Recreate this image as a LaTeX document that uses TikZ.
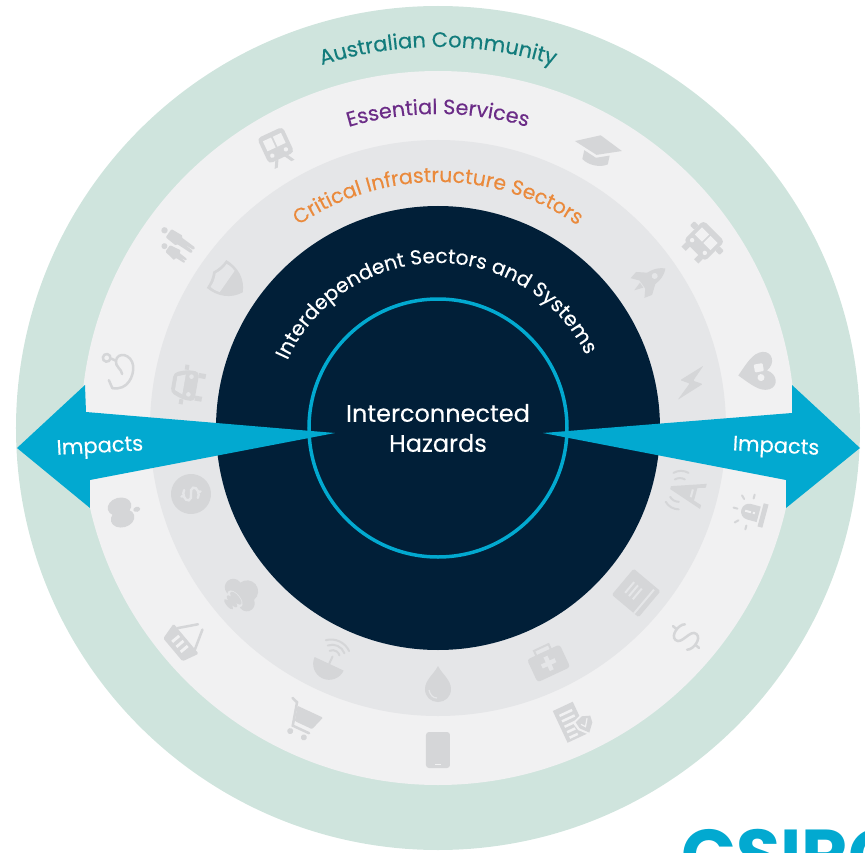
\documentclass[tikz,border=0pt]{standalone}
\usepackage{fontspec}
\setmainfont{Poppins}[UprightFeatures={FakeBold=0.25}]
\usetikzlibrary{decorations.text}
\definecolor{communitycol}{HTML}{CFE4DD}
\definecolor{ringone}{HTML}{F1F1F2}
\definecolor{ringtwo}{HTML}{E5E6E8}
\definecolor{navycol}{HTML}{011F38}
\definecolor{cyancol}{HTML}{02A9D0}
\definecolor{iconcol}{HTML}{D5D6D8}
\definecolor{tealcol}{HTML}{127C7C}
\definecolor{purplecol}{HTML}{6B2C87}
\definecolor{orangecol}{HTML}{EA8A3C}
\tikzset{
icon/.style={fill=iconcol}, % solid part of every small pictogram
iconline/.style={draw=iconcol, line width=2.5pt, line cap=round, fill=none}, % pictogram strokes
hole/.style={fill=ringone}, % cut-outs take the colour of the ring below
arrowfill/.style={fill=cyancol},
midtext/.style={text=white, align=center, font=\fontsize{24}{30}\selectfont},
impacttext/.style={text=white, font=\fontsize{21}{24}\selectfont},
arclabel/.style n args={3}{decorate, decoration={text along path, text align=center,
  text format delimiters={|}{|}, text={|\fontsize{#1}{#1}\selectfont\color{#2}|#3}}},
train/.pic={
  \fill[icon, rounded corners=4pt] (-14,-11) rectangle (14,17);
  \fill[hole] (-10,1) rectangle (-1,12) (1,1) rectangle (10,12);
  \fill[hole] (-7.5,-5) circle (2.2) (7.5,-5) circle (2.2);
  \fill[icon] (-7,-11) -- (-11,-18) -- (-7.5,-18) -- (-3.5,-11) -- cycle (7,-11) -- (11,-18) -- (7.5,-18) -- (3.5,-11) -- cycle;
},
people/.pic={
  \fill[icon] (6,17) circle (3.2) (-7,8) circle (3);
  \fill[icon, rounded corners=1pt] (1,12) -- (11,12) -- (12,-1) -- (10,-1) -- (9.5,-18) -- (6.5,-18) -- (6,-5) -- (5.5,-18) -- (2.5,-18) -- (2,-1) -- (0,-1) -- cycle;
  \fill[icon, rounded corners=1pt] (-11,4) -- (-3,4) -- (-1,-8) -- (-4,-8) -- (-4.5,-18) -- (-6.5,-18) -- (-7,-10) -- (-7.5,-18) -- (-9.5,-18) -- (-10,-8) -- (-13,-8) -- cycle;
},
stethoscope/.pic={
  \draw[iconline] (-15,3) .. controls (-15,-10) and (-2,-13) .. (6,-11) .. controls (16,-8) and (16,4) .. (8,4) .. controls (3,4) and (2,-2) .. (-2,-3);
  \draw[iconline] (-15,3) -- (-9,7);
  \draw[iconline] (9,12) circle (3.2);
  \draw[iconline] (8,4) -- (9,8);
},
apple/.pic={
  \fill[icon] (-6,-2) ellipse (9 and 12) (6,-2) ellipse (9 and 12);
  \fill[icon] (1,14) ellipse (2.5 and 3.5);
},
basket/.pic={
  \fill[icon, rounded corners=1.5pt] (-17,-1) -- (17,-1) -- (13,-16) -- (-13,-16) -- cycle;
  \fill[hole] (-7,-4) rectangle (-4.5,-12) (-1.2,-4) rectangle (1.2,-12) (4.5,-4) rectangle (7,-12);
  \draw[iconline] (-12,-1) -- (-3,15) (12,-1) -- (3,15);
},
cart/.pic={
  \fill[icon, rounded corners=1pt] (-10,11) -- (18,11) -- (13,-4) -- (-6,-4) -- cycle;
  \draw[iconline] (-18,16) -- (-12,14) -- (-6,-9) -- (12,-9);
  \fill[icon] (-6,-15) circle (3) (9,-15) circle (3);
},
phone/.pic={
  \fill[icon, rounded corners=3pt] (-12,-18) rectangle (12,18);
  \fill[hole] (-3,-14.5) rectangle (3,-13.5);
},
docshield/.pic={
  \fill[icon] (-15,-17) rectangle (7,18);
  \fill[hole] (-11,12) rectangle (3,9.5) (-11,6) rectangle (3,3.5) (-11,0) rectangle (1,-2.5) (-11,-6) rectangle (-2,-8.5) (-11,-12) rectangle (-2,-14.5);
  \fill[hole] (-2,-1) -- (9,3) -- (19,-1) -- (18,-10) -- (9,-20) -- (0,-10) -- cycle;
  \fill[icon] (1,-2) -- (9,1) -- (17,-2) -- (16,-9) -- (9,-17) -- (2,-9) -- cycle;
  \draw[hole, draw=ringone, line width=1.2pt, fill=none] (5,-6) -- (8,-10) -- (13,-3);
},
dollarsign/.pic={
  \draw[iconline] (9,9) .. controls (5,14) and (-9,13) .. (-9,6) .. controls (-9,-2) and (9,2) .. (9,-6) .. controls (9,-13) and (-5,-14) .. (-9,-9);
  \draw[iconline] (0,17) -- (0,12) (0,-12) -- (0,-17);
},
alarm/.pic={
  \fill[icon] (-8,-9) -- (-8,1) arc[start angle=180, end angle=0, radius=8] -- (8,-9) -- cycle;
  \fill[icon] (-12,-16) rectangle (12,-11);
  \fill[hole] (-1,5) rectangle (1,-1) (-1,-3) rectangle (1,-5);
  \draw[iconline, line width=2pt] (0,13) -- (0,17) (-11,9) -- (-14,12) (11,9) -- (14,12) (-14,0) -- (-18,0) (14,0) -- (18,0);
},
heartface/.pic={
  \fill[icon] (0,-20) .. controls (-10,-10) and (-20,-2) .. (-19,8) .. controls (-18,18) and (-5,19) .. (0,9) .. controls (5,19) and (18,18) .. (19,8) .. controls (20,-2) and (10,-10) .. (0,-20) -- cycle;
  \fill[hole, rounded corners=1pt] (-8,-3) rectangle (0,6);
  \fill[hole] (6,2) circle (3.5);
},
bus/.pic={
  \fill[icon, rounded corners=4pt] (-15,-11) rectangle (15,17);
  \fill[hole] (-11,1) rectangle (-1,11) (1,1) rectangle (11,11);
  \fill[hole] (-9,-5) circle (2.2) (9,-5) circle (2.2);
  \fill[icon] (-12,-17) rectangle (-6,-11) (6,-17) rectangle (12,-11);
  \fill[icon, rounded corners=1pt] (-21,4) rectangle (-15,10) (15,4) rectangle (21,10);
},
gradcap/.pic={
  \fill[icon] (0,13) -- (24,2) -- (0,-7) -- (-24,2) -- cycle;
  \fill[icon] (-13,-5) -- (0,-10) -- (13,-5) -- (13,-14) .. controls (6,-19) and (-6,-19) .. (-13,-14) -- cycle;
},
shieldicon/.pic={
  \fill[icon] (0,18) .. controls (6,15) and (11,14) .. (17,14) .. controls (18,0) and (12,-12) .. (0,-18) .. controls (-12,-12) and (-18,0) .. (-17,14) .. controls (-11,14) and (-6,15) .. (0,18) -- cycle;
  \fill[hole] (0,15) .. controls (5,12.5) and (9,11.5) .. (14,11.5) .. controls (14.5,7) and (14,4) .. (13,1) -- (-13,1) .. controls (-14,4) and (-14.5,7) .. (-14,11.5) .. controls (-9,11.5) and (-5,12.5) .. (0,15) -- cycle;
},
caricon/.pic={
  \fill[icon, rounded corners=4pt] (-15,-10) -- (-15,2) -- (-10,15) -- (10,15) -- (15,2) -- (15,-10) -- cycle;
  \fill[hole] (-10,3) -- (-7,11) -- (7,11) -- (10,3) -- cycle;
  \fill[hole] (-9,-3) circle (2.3) (9,-3) circle (2.3);
  \fill[icon] (-14,-17) rectangle (-9,-10) (9,-17) rectangle (14,-10);
  \fill[icon] (-20,1) rectangle (-15,5) (15,1) rectangle (20,5);
},
coin/.pic={
  \fill[icon] (0,0) circle (20);
  \begin{scope}[scale=0.62]
  \draw[hole, draw=ringtwo, line width=2.4pt, fill=none, line cap=round] (9,9) .. controls (5,14) and (-9,13) .. (-9,6) .. controls (-9,-2) and (9,2) .. (9,-6) .. controls (9,-13) and (-5,-14) .. (-9,-9);
  \draw[hole, draw=ringtwo, line width=2.4pt, fill=none, line cap=round] (0,16) -- (0,12) (0,-12) -- (0,-16);
  \end{scope}
},
cloudicon/.pic={
  \fill[icon] (-10,-3) circle (8.5) (2,5) circle (11) (11,-3) circle (8) (0,-6) circle (8);
  \fill[hole] (0,-9) ellipse (10 and 5) (0,-14) ellipse (9 and 4);
  \fill[icon] (0,-8) ellipse (8 and 3.2) (0,-13) ellipse (7.5 and 2.6) (0,-17.5) ellipse (6.5 and 2.2);
},
dishicon/.pic={
  \fill[icon] (-16,-2) arc[start angle=180, end angle=360, radius=16] -- cycle;
  \draw[iconline, line width=2pt] (0,-2) -- (0,6);
  \draw[iconline, line width=2pt] (-5,10) arc[start angle=140, end angle=40, radius=7];
  \draw[iconline, line width=2pt] (-9,14) arc[start angle=135, end angle=45, radius=13];
  \draw[iconline, line width=2pt] (-13,18) arc[start angle=130, end angle=50, radius=20];
},
dropicon/.pic={
  \fill[icon] (0,18) .. controls (4,10) and (13,4) .. (13,-5) .. controls (13,-13) and (7,-18) .. (0,-18) .. controls (-7,-18) and (-13,-13) .. (-13,-5) .. controls (-13,4) and (-4,10) .. (0,18) -- cycle;
  \draw[hole, draw=ringtwo, line width=1.2pt, fill=none] (-9,-6) .. controls (-8,-11) and (-5,-14) .. (-1,-14);
},
medkit/.pic={
  \fill[icon, rounded corners=3pt] (-18,-14) rectangle (18,11);
  \draw[iconline, line width=2pt] (-8,11) -- (-8,16) -- (8,16) -- (8,11);
  \fill[hole] (-2.2,-9) rectangle (2.2,6) (-7.5,-3.7) rectangle (7.5,0.7);
},
bookicon/.pic={
  \fill[icon, rounded corners=1.5pt] (-17,-19) rectangle (17,16);
  \fill[hole] (-17,-14) rectangle (14,-12);
  \fill[hole] (-7,8) rectangle (7,6) (-7,3) rectangle (7,1) (-7,-2) rectangle (7,-4);
},
towericon/.pic={
  \fill[icon] (-1.5,17) -- (1.5,17) -- (13,-17) -- (9,-17) -- (6.5,-9) -- (-6.5,-9) -- (-9,-17) -- (-13,-17) -- cycle;
  \fill[hole] (-4,-4) rectangle (4,-6);
  \draw[iconline, line width=2pt] (-9,15) arc[start angle=135, end angle=195, radius=10];
  \draw[iconline, line width=2pt] (-15,18) arc[start angle=135, end angle=195, radius=15];
  \draw[iconline, line width=2pt] (9,15) arc[start angle=45, end angle=-15, radius=10];
  \draw[iconline, line width=2pt] (15,18) arc[start angle=45, end angle=-15, radius=15];
},
bolticon/.pic={
  \fill[icon, rounded corners=1pt] (4,21) -- (-11,-2) -- (-1,-1) -- (-5,-21) -- (11,4) -- (1,3) -- cycle;
},
rocket/.pic={
  \fill[icon] (0,20) .. controls (7,13) and (8,4) .. (6,-8) -- (-6,-8) .. controls (-8,4) and (-7,13) .. (0,20) -- cycle;
  \fill[icon] (-6,4) -- (-14,-6) -- (-12,-14) -- (-5,-8) -- cycle (6,4) -- (14,-6) -- (12,-14) -- (5,-8) -- cycle;
  \fill[icon] (-3,-9) -- (0,-18) -- (3,-9) -- cycle;
  \fill[hole] (0,7) circle (3);
},
}

\begin{document}
\begin{tikzpicture}[x=1pt, y=1pt]
\clip (-438,-424) rectangle (427,428);
% rings
\fill[communitycol] (0,0) circle (422);
\fill[ringone] (0,0) circle (357);
\fill[ringtwo] (0,0) circle (288);
\fill[navycol] (0,0) circle (222);
\draw[cyancol, line width=3.5pt] (0,0) circle (129);
% ring titles
\path[arclabel={21}{tealcol}{Australian Community}] (112:381) arc[start angle=112, end angle=68, radius=381];
\path[arclabel={20.7}{purplecol}{Essential Services}] (110:314) arc[start angle=110, end angle=70, radius=314];
\path[arclabel={20.4}{orangecol}{Critical Infrastructure Sectors}] (130:246) arc[start angle=130, end angle=50, radius=246];
\path[arclabel={20.2}{white}{Interdependent Sectors and Systems}] (170:165) arc[start angle=170, end angle=12, radius=165];
% impact arrows
\fill[arrowfill] (-421,-20) -- (-353,43) -- (-352,16) -- (-103,-5) -- (-348,-52) -- (-348,-80) -- cycle;
\fill[arrowfill] (422,-20) -- (354,43) -- (354,15) -- (105,-5) -- (348,-52) -- (348,-80) -- cycle;
\node[midtext] (hazards) at (0,0) {Interconnected\\Hazards};
\node[impacttext, rotate=3] (impactl) at (-338,-20) {Impacts};
\node[impacttext, rotate=-3] (impactr) at (338,-20) {Impacts};
% outer ring pictograms
\pic[rotate=25] at (-161,280) {train};
\pic[rotate=55] at (-263,183) {people};
\pic[rotate=80, scale=1.2] at (-319,57) {stethoscope};
\pic[rotate=285] at (-315,-84) {apple};
\pic[rotate=310, scale=1.15] at (-251,-210) {basket};
\pic[rotate=335] at (-136,-292) {cart};
\pic at (0,-322) {phone};
\pic[rotate=25] at (136,-293) {docshield};
\pic[rotate=50] at (248,-209) {dollarsign};
\pic[rotate=75] at (312,-84) {alarm};
\pic[rotate=-80] at (320,56) {heartface};
\pic[rotate=-45] at (264,185) {bus};
\pic[rotate=-12] at (160,280) {gradcap};
% inner ring pictograms
\begin{scope}[hole/.style={fill=ringtwo}]
\pic[rotate=55] at (-210,146) {shieldicon};
\pic[rotate=80] at (-251,43) {caricon};
\pic[rotate=285] at (-247,-66) {coin};
\pic[rotate=310] at (-196,-165) {cloudicon};
\pic[rotate=335] at (-108,-234) {dishicon};
\pic at (0,-256) {dropicon};
\pic[rotate=25] at (110,-234) {medkit};
\pic[rotate=50] at (197,-164) {bookicon};
\pic[rotate=75] at (249,-64) {towericon};
\pic[rotate=-25] at (253,45) {bolticon};
\pic[rotate=-55] at (211,148) {rocket};
\end{scope}
% cut off wordmark
\node[anchor=base west, inner sep=0pt, text=cyancol, font=\fontsize{72}{72}\selectfont\bfseries] (wordmark) at (243,-452) {CSIRO};
\end{tikzpicture}
\end{document}
